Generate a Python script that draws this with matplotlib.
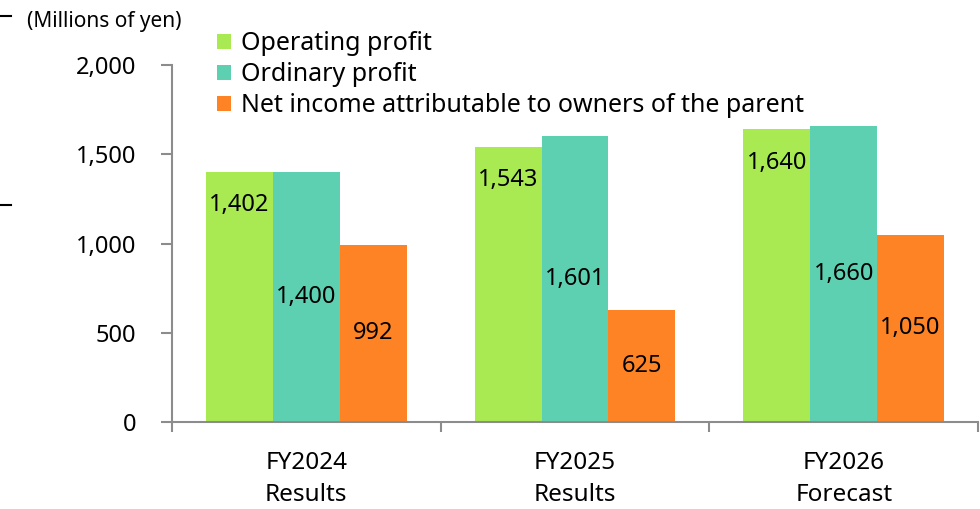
# Operating / ordinary profit and net income by fiscal year

import numpy as np
import matplotlib.pyplot as plt
from matplotlib.lines import Line2D
from matplotlib.patches import Patch

plt.rcParams['font.family'] = ['Noto Sans', 'DejaVu Sans']

# data
categories = ['FY2024\nResults', 'FY2025\nResults', 'FY2026\nForecast']
series_names = ['Operating profit', 'Ordinary profit',
                'Net income attributable to owners of the parent']
operating_profit = [1402, 1543, 1640]
ordinary_profit = [1400, 1601, 1660]
net_income = [992, 625, 1050]

colors = ['#A9EA52', '#5DD0B1', '#FE8324']
gray = '#8C8C8C'
fs = 17

fig = plt.figure(figsize=(9.8, 5.09), dpi=100)
ax = fig.add_axes([0.1755, 0.1709, 0.8225, 0.7014])

x = np.arange(len(categories))
w = 0.249
b1 = ax.bar(x - w, operating_profit, w, color=colors[0])
b2 = ax.bar(x, ordinary_profit, w, color=colors[1])
b3 = ax.bar(x + w, net_income, w, color=colors[2])

# labels: operating profit near the top, others centred
for xi, v in zip(x - w, operating_profit):
    ax.annotate(f'{v:,}', (xi, v), xytext=(0, -24), textcoords='offset points',
                ha='center', va='center', fontsize=fs)
ax.bar_label(b2, labels=[f'{v:,}' for v in ordinary_profit], label_type='center', fontsize=fs)
ax.bar_label(b3, labels=[f'{v:,}' for v in net_income], label_type='center', fontsize=fs)

ax.set_ylim(0, 2000)
ax.set_yticks([0, 500, 1000, 1500, 2000])
ax.set_yticklabels(['0', '500', '1,000', '1,500', '2,000'])
ax.set_xlim(-0.5, 2.5)
ax.set_xticks(x)
ax.set_xticklabels(categories, linespacing=1.45)
ax.set_xticks([-0.5, 0.5, 1.5, 2.5], minor=True)
ax.tick_params(axis='x', which='major', length=0, pad=21, labelsize=17.5)
ax.tick_params(axis='x', which='minor', length=7, width=1.5, color=gray)
ax.tick_params(axis='y', length=8, width=1.5, color=gray, pad=18, labelsize=fs)

for s in ['top', 'right']:
    ax.spines[s].set_visible(False)
for s in ['left', 'bottom']:
    ax.spines[s].set_color(gray)
    ax.spines[s].set_linewidth(1.5)

fig.text(0.028, 0.958, '(Millions of yen)', fontsize=15, va='center', ha='left')

handles = [Patch(facecolor=c) for c in colors]
fig.legend(handles, series_names, loc='upper left', bbox_to_anchor=(0.221, 0.939),
           frameon=False, fontsize=18, handlelength=0.56, handleheight=0.56,
           handletextpad=0.4, labelspacing=0.24, borderaxespad=0, borderpad=0)

# small marks at the left edge of the slide
fig.add_artist(Line2D([0, 0.011], [0.968, 0.968], color='black', lw=1.5))
fig.add_artist(Line2D([0, 0.011], [0.597, 0.597], color='black', lw=1.5))

plt.savefig('out.png', dpi=100)
